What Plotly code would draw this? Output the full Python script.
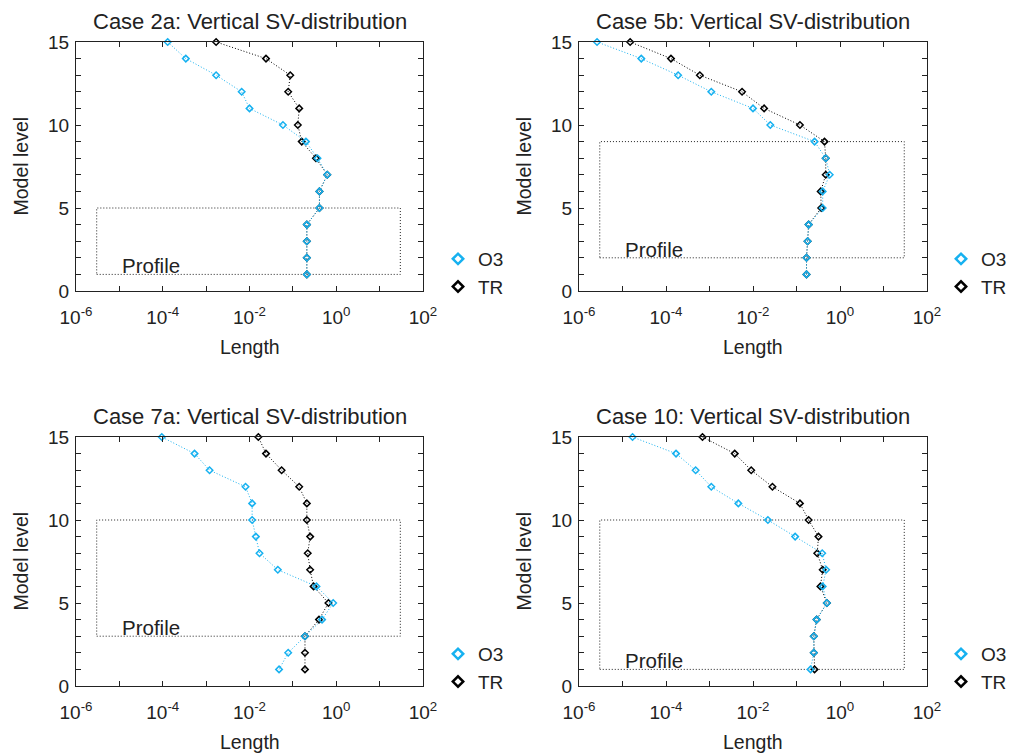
import plotly.graph_objects as go

W, H = 1012, 754

levels = list(range(1, 16))

titles = ["Case 2a: Vertical SV-distribution", "Case 5b: Vertical SV-distribution",
          "Case 7a: Vertical SV-distribution", "Case 10: Vertical SV-distribution"]

o3_2a = [0.21, 0.21, 0.21, 0.21, 0.41, 0.41, 0.62, 0.37, 0.20, 0.059, 0.010, 0.0066, 0.0017, 3.4e-4, 1.3e-4]
tr_2a = [0.21, 0.21, 0.21, 0.21, 0.41, 0.41, 0.62, 0.34, 0.16, 0.13, 0.14, 0.078, 0.087, 0.024, 0.0017]

o3_5b = [0.17, 0.17, 0.18, 0.19, 0.40, 0.40, 0.58, 0.47, 0.26, 0.025, 0.010, 0.0011, 1.9e-4, 2.7e-5, 2.6e-6]
tr_5b = [0.17, 0.17, 0.18, 0.19, 0.37, 0.36, 0.47, 0.47, 0.44, 0.12, 0.018, 0.0056, 6.0e-4, 1.3e-4, 1.5e-5]

o3_7a = [0.048, 0.078, 0.19, 0.47, 0.85, 0.35, 0.045, 0.017, 0.014, 0.0115, 0.0115, 0.0081, 0.0012, 5.4e-4, 9.5e-5]
tr_7a = [0.19, 0.19, 0.19, 0.40, 0.66, 0.30, 0.25, 0.22, 0.25, 0.21, 0.21, 0.14, 0.055, 0.024, 0.016]

o3_10 = [0.21, 0.25, 0.25, 0.29, 0.50, 0.40, 0.48, 0.39, 0.093, 0.022, 0.0046, 0.0011, 4.8e-4, 1.7e-4, 1.7e-5]
tr_10 = [0.26, 0.25, 0.25, 0.29, 0.50, 0.355, 0.40, 0.30, 0.32, 0.19, 0.12, 0.028, 0.0091, 0.0038, 6.9e-4]

o3_series = [o3_2a, o3_5b, o3_7a, o3_10]
tr_series = [tr_2a, tr_5b, tr_7a, tr_10]

profile_x = [3e-6, 30.0]
profile_bottom = [1, 2, 3, 1]
profile_top = [5, 9, 10, 10]

x_tick_vals = [1e-6, 1e-5, 1e-4, 1e-3, 1e-2, 1e-1, 1e0, 1e1, 1e2]
x_tick_text = ["10<sup>-6</sup>", "", "10<sup>-4</sup>", "", "10<sup>-2</sup>", "",
               "10<sup>0</sup>", "", "10<sup>2</sup>"]
y_tick_vals = list(range(0, 16))
y_tick_text = [str(v) if v % 5 == 0 else "" for v in y_tick_vals]

CYAN = "#16b1f0"
BLACK = "#000000"
TXT = "#222222"
FONT = "Liberation Sans, Arial, Helvetica, sans-serif"
DOT = "1px,2px"

# plot area boxes in pixels: (left, top, right, bottom)
boxes = [(76, 42, 423, 291), (579, 42, 927, 291), (76, 437, 423, 686), (579, 437, 927, 686)]

fig = go.Figure()
annotations = []

for i in range(4):
    n = "" if i == 0 else str(i + 1)
    xa, ya = "x" + n, "y" + n
    lg = "legend" if i == 0 else "legend" + str(i + 1)
    # profile box
    fig.add_trace(go.Scatter(
        x=[profile_x[0], profile_x[1], profile_x[1], profile_x[0], profile_x[0]],
        y=[profile_bottom[i], profile_bottom[i], profile_top[i], profile_top[i], profile_bottom[i]],
        mode="lines", line=dict(color="#222222", width=1, dash=DOT),
        xaxis=xa, yaxis=ya, showlegend=False, hoverinfo="skip"))
    fig.add_trace(go.Scatter(
        x=tr_series[i], y=levels, mode="lines+markers", name="TR",
        line=dict(color=BLACK, width=1, dash=DOT),
        marker=dict(symbol="diamond-open", size=5, color=BLACK, line=dict(width=1.5, color=BLACK)),
        xaxis=xa, yaxis=ya, showlegend=False, cliponaxis=False))
    fig.add_trace(go.Scatter(
        x=o3_series[i], y=levels, mode="lines+markers", name="O3",
        line=dict(color=CYAN, width=1, dash=DOT),
        marker=dict(symbol="diamond-open", size=5, color=CYAN, line=dict(width=1.5, color=CYAN)),
        xaxis=xa, yaxis=ya, showlegend=False, cliponaxis=False))
    # legend entries
    for nm, col in (("O3", CYAN), ("TR", BLACK)):
        fig.add_trace(go.Scatter(
            x=[None], y=[None], mode="markers", name=nm,
            marker=dict(symbol="diamond-open", size=8, color=col, line=dict(width=2.5, color=col)),
            xaxis=xa, yaxis=ya, showlegend=True, legend=lg))

    l, t, r, b = boxes[i]
    axis_common = dict(showline=True, linecolor="#222222", linewidth=1, mirror="ticks",
                       ticks="inside", ticklen=5, tickcolor="#222222", showgrid=False,
                       zeroline=False, automargin=False,
                       tickfont=dict(family=FONT, size=19, color=TXT))
    fig.update_layout(**{
        "xaxis" + n: dict(type="log", range=[-6, 2], domain=[l / W, r / W], anchor=ya,
                          tickvals=x_tick_vals, ticktext=x_tick_text, ticklabelstandoff=9,
                          **axis_common),
        "yaxis" + n: dict(range=[0, 15], domain=[1 - b / H, 1 - t / H], anchor=xa,
                          tickvals=y_tick_vals, ticktext=y_tick_text, ticklabelstandoff=2,
                          **axis_common),
        lg: dict(x=(l + 362) / W, y=1 - (t + 198) / H, xanchor="left", yanchor="top",
                 bgcolor="rgba(0,0,0,0)", font=dict(family=FONT, size=19, color=TXT),
                 itemwidth=30, tracegroupgap=0),
    })
    cx = (l + r) / 2
    annotations.append(dict(text=titles[i], x=cx / W, y=1 - (t - 21) / H, xref="paper", yref="paper",
                            showarrow=False, xanchor="center", yanchor="middle",
                            font=dict(family=FONT, size=22, color=TXT)))
    annotations.append(dict(text="Length", x=cx / W, y=1 - (b + 56) / H, xref="paper", yref="paper",
                            showarrow=False, xanchor="center", yanchor="middle",
                            font=dict(family=FONT, size=19.5, color=TXT)))
    annotations.append(dict(text="Model level", x=(l - 56) / W, y=1 - ((t + b) / 2) / H,
                            xref="paper", yref="paper", textangle=-90,
                            showarrow=False, xanchor="center", yanchor="middle",
                            font=dict(family=FONT, size=19.5, color=TXT)))
    annotations.append(dict(text="Profile", x=-4.99, y=profile_bottom[i], xref=xa, yref=ya,
                            showarrow=False, xanchor="left", yanchor="bottom", yshift=-5,
                            font=dict(family=FONT, size=20.5, color=TXT)))

fig.update_layout(width=W, height=H, margin=dict(l=0, r=0, t=0, b=0, autoexpand=False),
                  paper_bgcolor="white", plot_bgcolor="white",
                  annotations=annotations, showlegend=True)

fig.write_html("out.html", config={"displayModeBar": False},
               post_script="document.body.style.margin='0';")
